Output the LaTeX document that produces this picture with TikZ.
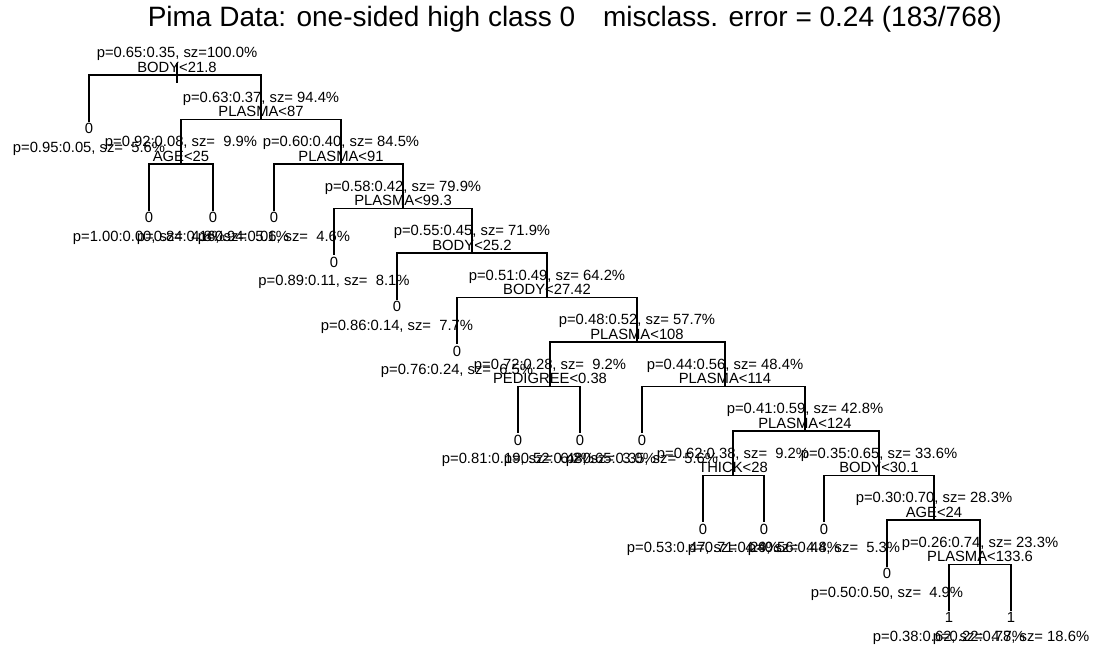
\documentclass[tikz,border=0pt]{standalone}
\usepackage{fontspec}
\setmainfont{Liberation Sans}
\newfontfamily\lblfont{Liberation Sans}
\newfontfamily\ttlfont{Liberation Sans}

\begin{document}
\begin{tikzpicture}[x=1pt, y=-1pt, line width=1.5pt,
    lbl/.style={font=\lblfont\fontsize{14.8}{14.8}\selectfont, inner sep=0pt},
    cls/.style={font=\lblfont\fontsize{14.8}{14.8}\selectfont, inner sep=1pt, anchor=north}]
    \useasboundingbox (0,0) rectangle (1097,653);

    \node[anchor=base west, font=\ttlfont\fontsize{28}{28}\selectfont, inner sep=0pt] (title) at (147,27)
        {Pima Data: one-sided high class 0\hspace{1em}misclass. error = 0.24 (183/768)};

    \foreach \n/\x/\k/\p/\c in {
        s0/177/0/{p=0.65:0.35, sz=100.0\%}/{BODY<21.8},
        s1/261/1/{p=0.63:0.37, sz=~94.4\%}/{PLASMA<87},
        s2/181/2/{p=0.92:0.08, sz=~~9.9\%}/{AGE<25},
        s3/341/2/{p=0.60:0.40, sz=~84.5\%}/{PLASMA<91},
        s4/403/3/{p=0.58:0.42, sz=~79.9\%}/{PLASMA<99.3},
        s5/472/4/{p=0.55:0.45, sz=~71.9\%}/{BODY<25.2},
        s6/547/5/{p=0.51:0.49, sz=~64.2\%}/{BODY<27.42},
        s7/637/6/{p=0.48:0.52, sz=~57.7\%}/{PLASMA<108},
        s8/550/7/{p=0.72:0.28, sz=~~9.2\%}/{PEDIGREE<0.38},
        s9/725/7/{p=0.44:0.56, sz=~48.4\%}/{PLASMA<114},
        s10/805/8/{p=0.41:0.59, sz=~42.8\%}/{PLASMA<124},
        s11/733/9/{p=0.62:0.38, sz=~~9.2\%}/{THICK<28},
        s12/879/9/{p=0.35:0.65, sz=~33.6\%}/{BODY<30.1},
        s13/934/10/{p=0.30:0.70, sz=~28.3\%}/{AGE<24},
        s14/980/11/{p=0.26:0.74, sz=~23.3\%}/{PLASMA<133.6}} {
        \pgfmathsetmacro\yy{75+44.5*\k}
        \coordinate (\n) at (\x,\yy);
        \node[lbl] (\n-p) at (\x,\yy-21) {\p};
        \node[lbl] (\n-c) at (\x,\yy-8) {\c};
    }

    \foreach \n/\x/\k/\v/\t in {
        l1/89/1/0/{p=0.95:0.05, sz=~~5.6\%},
        l2/149/3/0/{p=1.00:0.00, sz=~~4.8\%},
        l3/213/3/0/{p=0.84:0.16, sz=~~5.1\%},
        l4/274/3/0/{p=0.94:0.06, sz=~~4.6\%},
        l5/334/4/0/{p=0.89:0.11, sz=~~8.1\%},
        l6/397/5/0/{p=0.86:0.14, sz=~~7.7\%},
        l7/457/6/0/{p=0.76:0.24, sz=~~6.5\%},
        l8/518/8/0/{p=0.81:0.19, sz=~~6.2\%},
        l9/580/8/0/{p=0.52:0.48, sz=~~3.0\%},
        l10/642/8/0/{p=0.65:0.35, sz=~~5.6\%},
        l11/703/10/0/{p=0.53:0.47, sz=~~4.4\%},
        l12/764/10/0/{p=0.71:0.29, sz=~~4.8\%},
        l13/824/10/0/{p=0.56:0.44, sz=~~5.3\%},
        l14/887/11/0/{p=0.50:0.50, sz=~~4.9\%},
        l15/949/12/1/{p=0.38:0.62, sz=~~4.7\%},
        l16/1011/12/1/{p=0.22:0.78, sz=~18.6\%}} {
        \pgfmathsetmacro\yy{75+44.5*\k}
        \node[cls] (\n) at (\x,\yy+2) {\v};
        \node[lbl] (\n-t) at (\x,\yy+29) {\t};
    }

    \draw (s0) ++(0,-12) -- ++(0,20);
    \foreach \a/\b in {s0/l1, s0/s1, s1/s2, s1/s3, s2/l2, s2/l3, s3/l4, s3/s4,
        s4/l5, s4/s5, s5/l6, s5/s6, s6/l7, s6/s7, s7/s8, s7/s9, s8/l8, s8/l9,
        s9/l10, s9/s10, s10/s11, s10/s12, s11/l11, s11/l12, s12/l13, s12/s13,
        s13/l14, s13/s14, s14/l15, s14/l16}
        \draw (\a) -| (\b);

\end{tikzpicture}
\end{document}
